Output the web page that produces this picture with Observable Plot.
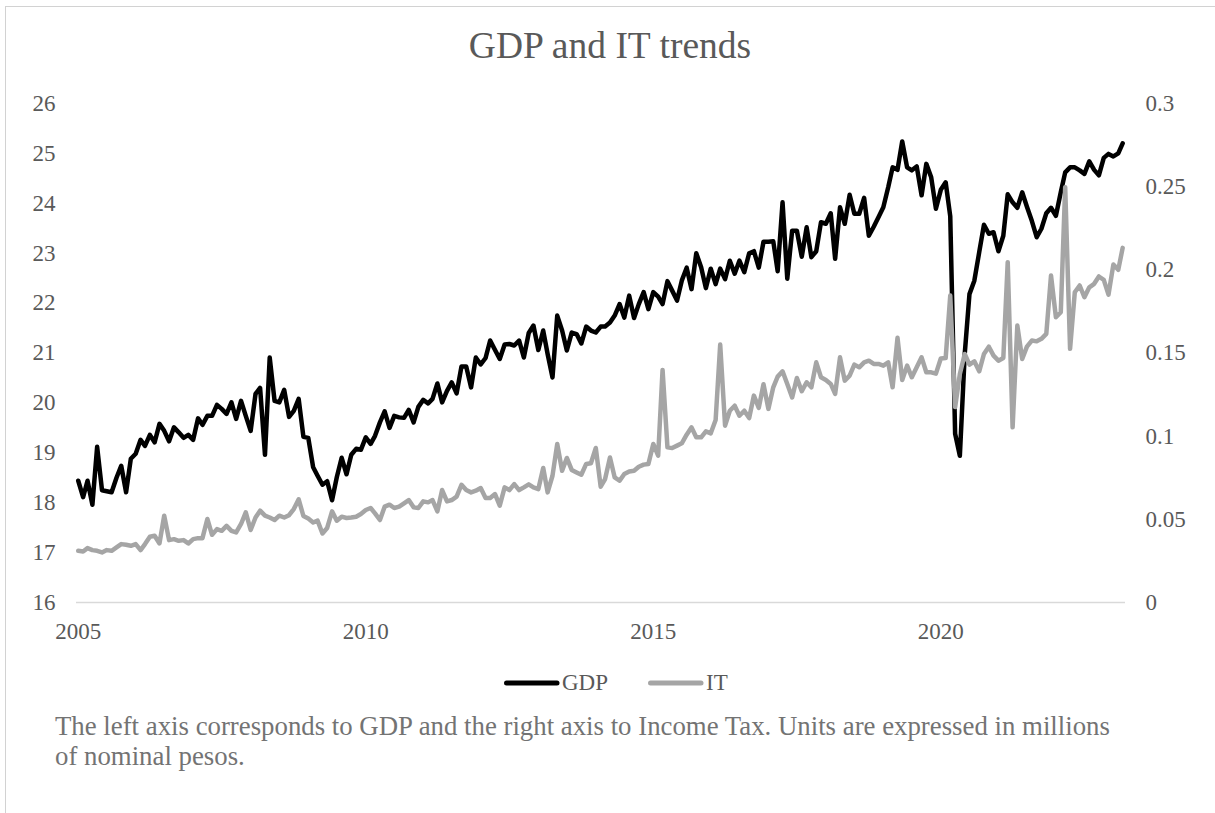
<!DOCTYPE html>
<html>
<head>
<meta charset="utf-8">
<script src="https://cdn.jsdelivr.net/npm/d3@7"></script>
<script src="https://cdn.jsdelivr.net/npm/@observablehq/plot@0.6"></script>
<style>
  html, body { margin: 0; padding: 0; background: #fff; }
  #frame { position: relative; width: 1215px; height: 813px; overflow: hidden; font-family: "Liberation Serif", "Times New Roman", serif; }
  #border { position: absolute; left: 5px; top: 6px; right: -2px; bottom: -2px; border-top: 1.5px solid #d2d2d2; border-left: 1.5px solid #d2d2d2; }
  #title { position: absolute; top: 28px; left: 5px; right: 0; text-align: center; font-size: 37.5px; line-height: 36px; color: #595959; }
  #chart { position: absolute; left: 0; top: 80px; }
  #legend { position: absolute; top: 671px; left: 0; height: 24px; font-size: 23px; line-height: 24px; color: #595959; }
  .item { position: absolute; top: 0; white-space: nowrap; }
  .item svg { position: absolute; top: 0; left: 0; }
  .item span { position: absolute; top: 0; }
  #caption { position: absolute; top: 711px; left: 55px; font-size: 26.8px; line-height: 30px; color: #737373; white-space: nowrap; }
</style>
</head>
<body>
<div id="frame">
  <div id="border"></div>
  <div id="title">GDP and IT trends</div>
  <div id="chart"></div>
  <div id="legend"></div>
  <div id="caption">The left axis corresponds to GDP and the right axis to Income Tax. Units are expressed in millions<br>of nominal pesos.</div>
</div>
<script>
// Monthly series, January 2005 to March 2023
const startYear = 2005;

// GDP (left axis)
const gdp = [
  18.44, 18.11, 18.44, 17.96, 19.12, 18.25, 18.23, 18.21, 18.50, 18.74, 18.21, 18.88,
  18.98, 19.26, 19.14, 19.36, 19.21, 19.58, 19.44, 19.23, 19.51, 19.41, 19.30, 19.36,
  19.26, 19.69, 19.56, 19.74, 19.74, 19.96, 19.88, 19.78, 20.01, 19.68, 20.04, 19.74,
  19.44, 20.18, 20.30, 18.96, 20.91, 20.04, 20.01, 20.26, 19.72, 19.84, 20.08, 19.32,
  19.30, 18.71, 18.54, 18.36, 18.43, 18.05, 18.51, 18.90, 18.57, 18.96, 19.08, 19.06,
  19.31, 19.18, 19.34, 19.61, 19.83, 19.50, 19.74, 19.71, 19.70, 19.86, 19.61, 19.92,
  20.06, 19.99, 20.08, 20.39, 20.01, 20.24, 20.41, 20.19, 20.73, 20.73, 20.31, 20.91,
  20.77, 20.90, 21.25, 21.06, 20.88, 21.17, 21.18, 21.15, 21.25, 20.91, 21.40, 21.55,
  21.06, 21.45, 20.98, 20.51, 21.75, 21.45, 21.05, 21.41, 21.38, 21.19, 21.53, 21.45,
  21.41, 21.53, 21.53, 21.61, 21.75, 21.98, 21.71, 22.15, 21.70, 21.98, 22.22, 21.88,
  22.22, 22.13, 21.98, 22.44, 22.25, 22.05, 22.45, 22.71, 22.28, 23.00, 22.72, 22.30,
  22.69, 22.38, 22.69, 22.48, 22.85, 22.59, 22.85, 22.62, 23.00, 23.04, 22.71, 23.23,
  23.23, 23.24, 22.64, 24.02, 22.49, 23.45, 23.45, 22.93, 23.52, 22.92, 23.04, 23.62,
  23.59, 23.80, 22.89, 23.92, 23.59, 24.17, 23.79, 23.79, 24.11, 23.35, 23.53, 23.72,
  23.92, 24.32, 24.72, 24.67, 25.24, 24.72, 24.66, 24.74, 24.16, 24.79, 24.52, 23.89,
  24.27, 24.42, 23.74, 19.38, 18.94, 20.98, 22.18, 22.45, 23.02, 23.57, 23.39, 23.42,
  23.04, 23.35, 24.18, 24.02, 23.91, 24.22, 23.93, 23.65, 23.32, 23.49, 23.80, 23.91,
  23.75, 24.22, 24.62, 24.72, 24.72, 24.66, 24.59, 24.84, 24.67, 24.56, 24.91, 24.99,
  24.94, 25.00, 25.20
];

// Income tax (right axis)
const incomeTax = [
  0.0311, 0.0307, 0.0327, 0.0315, 0.0311, 0.0301, 0.0315, 0.0311, 0.0331, 0.0351, 0.0347, 0.0341,
  0.0351, 0.0315, 0.0351, 0.0395, 0.0401, 0.0355, 0.0522, 0.0375, 0.0381, 0.0371, 0.0375, 0.0355,
  0.0381, 0.0387, 0.0387, 0.0502, 0.0407, 0.0441, 0.0431, 0.0461, 0.0431, 0.0421, 0.0472, 0.0542,
  0.0436, 0.0511, 0.0552, 0.0522, 0.0511, 0.0496, 0.0522, 0.0511, 0.0525, 0.0562, 0.0620, 0.0520,
  0.0505, 0.0481, 0.0492, 0.0415, 0.0448, 0.0548, 0.0492, 0.0516, 0.0508, 0.0511, 0.0516, 0.0532,
  0.0556, 0.0568, 0.0536, 0.0496, 0.0576, 0.0588, 0.0568, 0.0576, 0.0596, 0.0616, 0.0572, 0.0568,
  0.0608, 0.0602, 0.0616, 0.0548, 0.0676, 0.0608, 0.0616, 0.0636, 0.0708, 0.0676, 0.0662, 0.0672,
  0.0688, 0.0628, 0.0628, 0.0652, 0.0582, 0.0692, 0.0676, 0.0712, 0.0676, 0.0692, 0.0710, 0.0692,
  0.0682, 0.0809, 0.0662, 0.0762, 0.0953, 0.0792, 0.0869, 0.0797, 0.0782, 0.0768, 0.0833, 0.0837,
  0.0929, 0.0696, 0.0742, 0.0872, 0.0752, 0.0732, 0.0773, 0.0788, 0.0792, 0.0816, 0.0829, 0.0833,
  0.0953, 0.0883, 0.1398, 0.0933, 0.0929, 0.0943, 0.0957, 0.1009, 0.1053, 0.0993, 0.0993, 0.1029,
  0.1017, 0.1097, 0.1551, 0.1063, 0.1153, 0.1183, 0.1123, 0.1153, 0.1109, 0.1244, 0.1170, 0.1312,
  0.1164, 0.1294, 0.1358, 0.1390, 0.1314, 0.1233, 0.1350, 0.1270, 0.1324, 0.1294, 0.1444, 0.1354,
  0.1338, 0.1314, 0.1254, 0.1474, 0.1334, 0.1364, 0.1430, 0.1414, 0.1444, 0.1454, 0.1434, 0.1434,
  0.1424, 0.1444, 0.1294, 0.1591, 0.1338, 0.1424, 0.1354, 0.1414, 0.1474, 0.1384, 0.1384, 0.1376,
  0.1467, 0.1470, 0.1845, 0.1175, 0.1374, 0.1494, 0.1430, 0.1450, 0.1390, 0.1494, 0.1538, 0.1484,
  0.1454, 0.1470, 0.2046, 0.1053, 0.1665, 0.1464, 0.1538, 0.1575, 0.1570, 0.1585, 0.1615, 0.1966,
  0.1715, 0.1745, 0.2497, 0.1525, 0.1865, 0.1906, 0.1835, 0.1895, 0.1916, 0.1960, 0.1940, 0.1851,
  0.2032, 0.2000, 0.2132
];

// Axis ticks
const yearTicks = [2005, 2010, 2015, 2020];
const gdpTicks = [16, 17, 18, 19, 20, 21, 22, 23, 24, 25, 26];
const itTicks = [0, 0.05, 0.1, 0.15, 0.2, 0.25, 0.3];

const seriesNames = ["GDP", "IT"];
const seriesColors = ["#000000", "#a5a5a5"];

// Income tax shares the plot with GDP: map its 0–0.3 range onto the 16–26 GDP range
const itToGdp = d3.scaleLinear([itTicks[0], itTicks[itTicks.length - 1]], [gdpTicks[0], gdpTicks[gdpTicks.length - 1]]);

const rows = gdp.map((v, i) => ({
  date: new Date(Date.UTC(startYear, i, 1)),
  gdp: v,
  it: incomeTax[i]
}));

const font = '"Liberation Serif", "Times New Roman", serif';

const chart = Plot.plot({
  width: 1215,
  height: 572,
  marginLeft: 76,
  marginRight: 90,
  marginTop: 23,
  marginBottom: 50,
  style: { fontFamily: font, fontSize: "23px", color: "#595959", background: "transparent", overflow: "visible" },
  x: { type: "utc", domain: [new Date(Date.UTC(2004, 11, 21)), new Date(Date.UTC(2023, 2, 19))] },
  y: { domain: [gdpTicks[0], gdpTicks[gdpTicks.length - 1]] },
  marks: [
    Plot.ruleY([gdpTicks[0]], { stroke: "#d9d9d9", strokeWidth: 1.5 }),
    Plot.axisY(gdpTicks, {
      anchor: "left", tickSize: 0, tickPadding: 21, label: null, fill: "#595959",
      tickFormat: d => String(d)
    }),
    Plot.axisY(itTicks.map(itToGdp), {
      anchor: "right", tickSize: 0, tickPadding: 20, label: null, fill: "#595959",
      textAnchor: "start",
      tickFormat: v => String(+itToGdp.invert(v).toFixed(2))
    }),
    Plot.axisX(yearTicks.map(y => new Date(Date.UTC(y, 0, 1))), {
      tickSize: 0, tickPadding: 20, label: null, fill: "#595959",
      tickFormat: d => String(d.getUTCFullYear())
    }),
    Plot.lineY(rows, { x: "date", y: "gdp", stroke: seriesColors[0], strokeWidth: 4.5, strokeLinejoin: "round", strokeLinecap: "round" }),
    Plot.lineY(rows, { x: "date", y: d => itToGdp(d.it), stroke: seriesColors[1], strokeWidth: 4.5, strokeLinejoin: "round", strokeLinecap: "round" })
  ]
});
document.getElementById("chart").appendChild(chart);

// Legend below the plot
const legend = document.getElementById("legend");
const legendX = [504, 648];
seriesNames.forEach((name, i) => {
  const item = document.createElement("div");
  item.className = "item";
  item.style.left = legendX[i] + "px";
  item.innerHTML =
    `<svg width="60" height="24"><line x1="2.5" y1="12" x2="53" y2="12" stroke="${seriesColors[i]}" stroke-width="5" stroke-linecap="round"/></svg>` +
    `<span style="left:58px">${name}</span>`;
  legend.appendChild(item);
});
</script>
</body>
</html>
